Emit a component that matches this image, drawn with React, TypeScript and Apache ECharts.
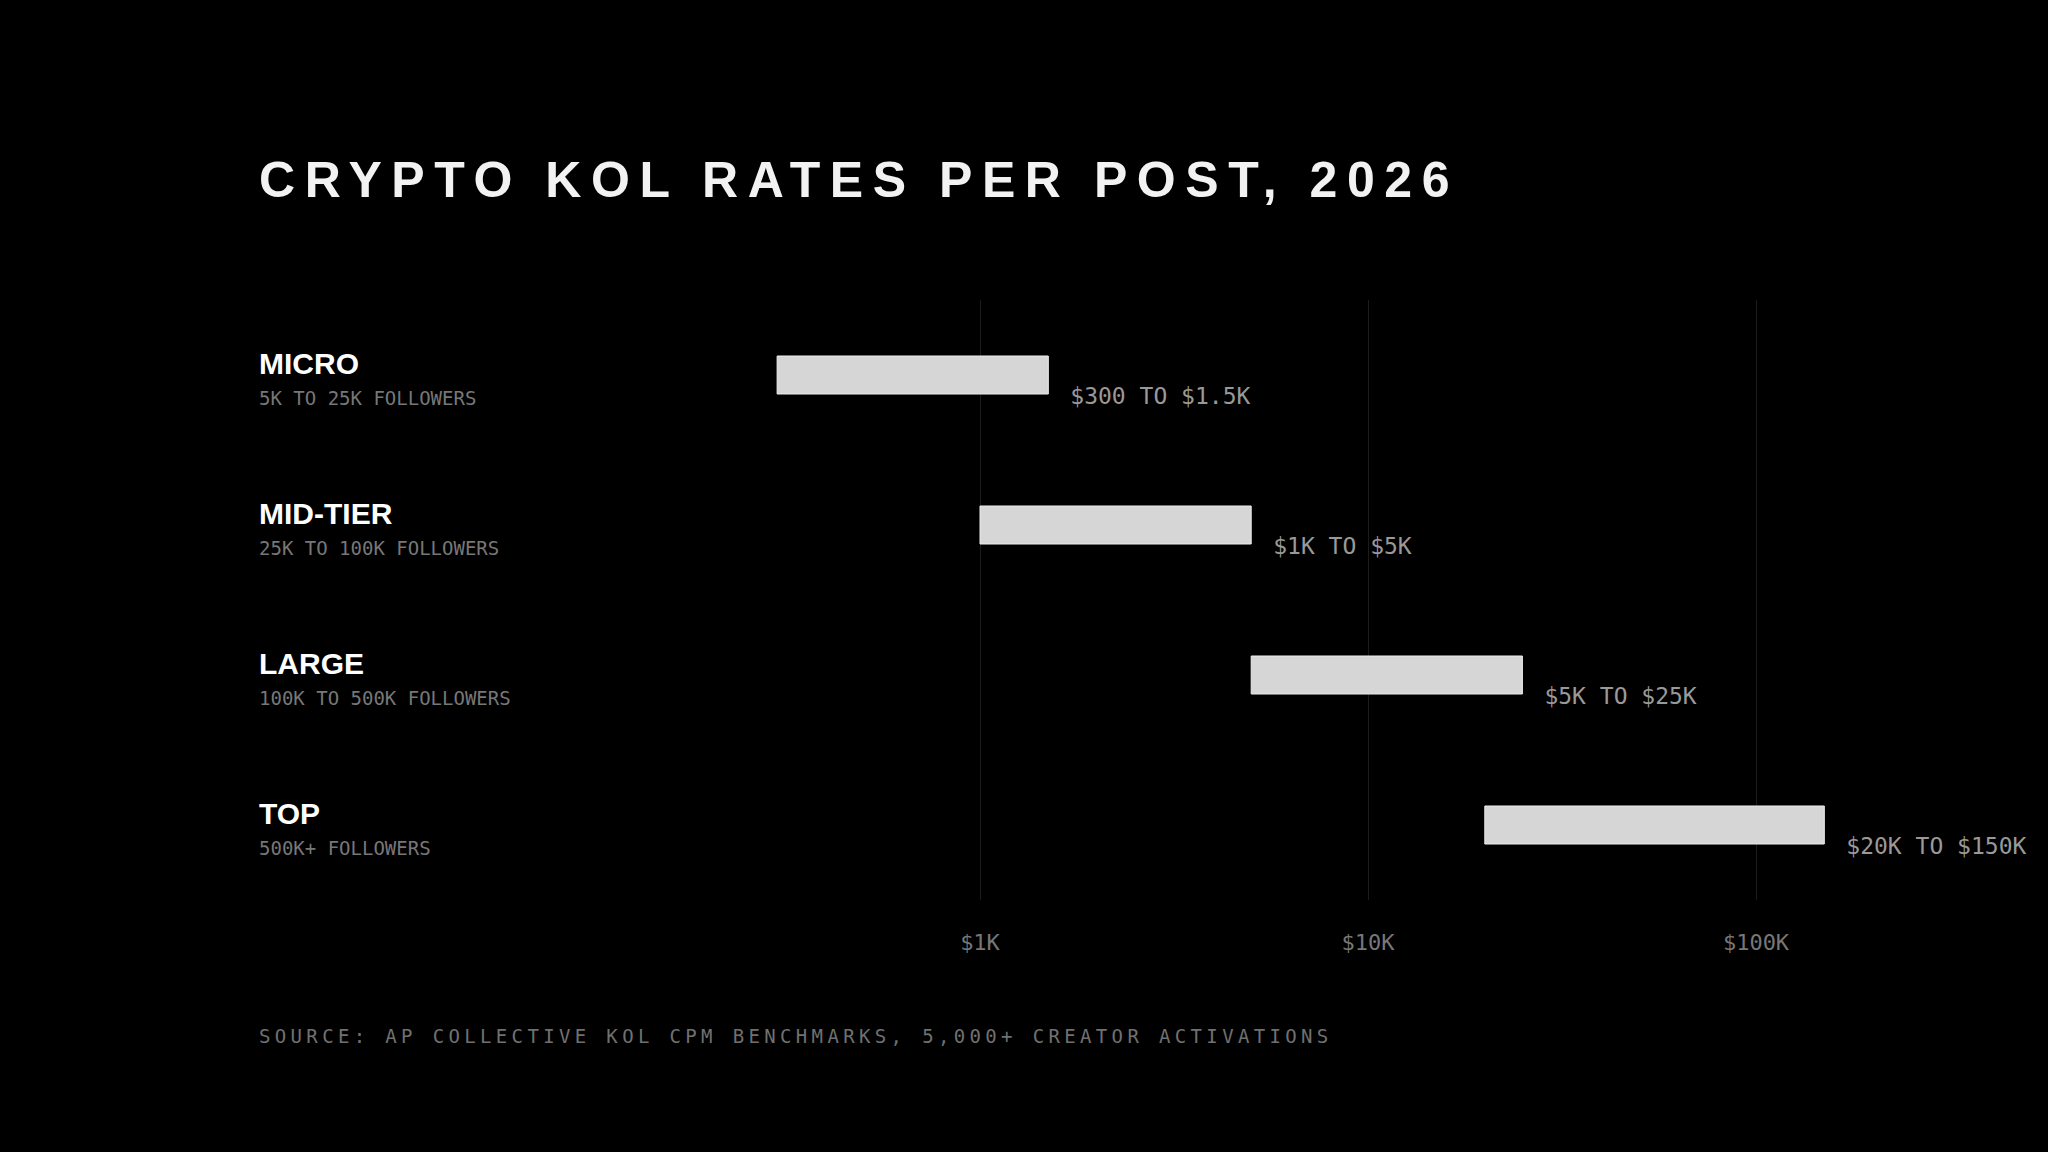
import React, { useEffect, useRef } from 'react';
import * as echarts from 'echarts';

const tiers = ['MICRO', 'MID-TIER', 'LARGE', 'TOP'];
const followers = ['5K TO 25K FOLLOWERS', '25K TO 100K FOLLOWERS', '100K TO 500K FOLLOWERS', '500K+ FOLLOWERS'];
const rateLow = [300, 1000, 5000, 20000];
const rateHigh = [1500, 5000, 25000, 150000];
const rateLabels = ['$300 TO $1.5K', '$1K TO $5K', '$5K TO $25K', '$20K TO $150K'];
const axisTicks = [1000, 10000, 100000];
const axisTickLabels = ['$1K', '$10K', '$100K'];

const MONO = '"DejaVu Sans Mono", monospace';
const SANS = '"Liberation Sans", Arial, sans-serif';
const BAR_HEIGHT = 38;

const RateChart: React.FC = () => {
  const chartRef = useRef<HTMLDivElement>(null);

  useEffect(() => {
    if (!chartRef.current) return;
    const chart = echarts.init(chartRef.current, null, { renderer: 'svg' });

    const data = tiers.map((_, i) => [rateLow[i], rateHigh[i], i]);

    const option: any = {
      animation: false,
      backgroundColor: '#000',
      grid: {
        left: 592,
        top: 300,
        width: 1552,
        height: 600,
        containLabel: false,
        outerBoundsMode: 'none'
      },
      xAxis: {
        type: 'log',
        logBase: 10,
        min: 100,
        max: 1000000,
        axisLine: { show: false },
        axisTick: { show: false },
        splitLine: {
          show: true,
          showMinLine: false,
          showMaxLine: false,
          lineStyle: { color: '#1c1c1c', width: 1 }
        },
        axisLabel: {
          margin: 31,
          color: '#777',
          fontFamily: MONO,
          fontSize: 22,
          showMinLabel: false,
          showMaxLabel: false,
          formatter: (v: number) => {
            const i = axisTicks.findIndex(t => Math.abs(t - v) < 1e-6 * t);
            return i >= 0 ? axisTickLabels[i] : '';
          }
        }
      },
      yAxis: {
        type: 'category',
        data: tiers,
        inverse: true,
        axisLine: { show: false },
        axisTick: { show: false },
        splitLine: { show: false },
        axisLabel: {
          align: 'left',
          margin: 333,
          formatter: (v: string) => {
            const i = tiers.indexOf(v);
            return `{name|${v}}\n{sub|${followers[i]}}`;
          },
          rich: {
            name: {
              fontFamily: SANS,
              fontWeight: 'bold',
              fontSize: 30,
              color: '#fff',
              lineHeight: 46
            },
            sub: {
              fontFamily: MONO,
              fontSize: 19,
              color: '#777',
              lineHeight: 24
            }
          }
        }
      },
      series: [
        {
          type: 'custom',
          encode: { x: [0, 1], y: 2 },
          data,
          renderItem: (params: any, api: any) => {
            const cat = api.value(2);
            const start = api.coord([api.value(0), cat]);
            const end = api.coord([api.value(1), cat]);
            return {
              type: 'group',
              children: [
                {
                  type: 'rect',
                  shape: {
                    x: start[0],
                    y: start[1] - BAR_HEIGHT / 2,
                    width: end[0] - start[0],
                    height: BAR_HEIGHT
                  },
                  style: { fill: '#d6d6d6', stroke: '#ececec', lineWidth: 1 }
                },
                {
                  type: 'text',
                  x: end[0] + 22,
                  y: end[1] + 21,
                  style: {
                    text: rateLabels[params.dataIndex],
                    fill: '#999',
                    font: `23px ${MONO}`,
                    align: 'left',
                    verticalAlign: 'middle'
                  }
                }
              ]
            };
          }
        }
      ]
    };

    chart.setOption(option);

    const handleResize = () => chart.resize();
    window.addEventListener('resize', handleResize);
    return () => {
      window.removeEventListener('resize', handleResize);
      chart.dispose();
    };
  }, []);

  return <div ref={chartRef} style={{ position: 'absolute', left: 0, top: 0, width: 2048, height: 1152 }} />;
};

export default function App() {
  return (
    <div style={{ position: 'fixed', left: 0, top: 0, width: 2048, height: 1152, background: '#000', overflow: 'hidden' }}>
      <RateChart />
      <div
        style={{
          position: 'absolute',
          left: 259,
          top: 155,
          fontFamily: SANS,
          fontWeight: 700,
          fontSize: 50,
          lineHeight: '50px',
          letterSpacing: '9.55px',
          color: '#f2f2f2',
          whiteSpace: 'nowrap'
        }}
      >
        CRYPTO KOL RATES PER POST, 2026
      </div>
      <div
        style={{
          position: 'absolute',
          left: 259,
          top: 1027,
          fontFamily: MONO,
          fontSize: 19,
          lineHeight: '19px',
          letterSpacing: '4.35px',
          color: '#707070',
          whiteSpace: 'nowrap'
        }}
      >
        SOURCE: AP COLLECTIVE KOL CPM BENCHMARKS, 5,000+ CREATOR ACTIVATIONS
      </div>
    </div>
  );
}
